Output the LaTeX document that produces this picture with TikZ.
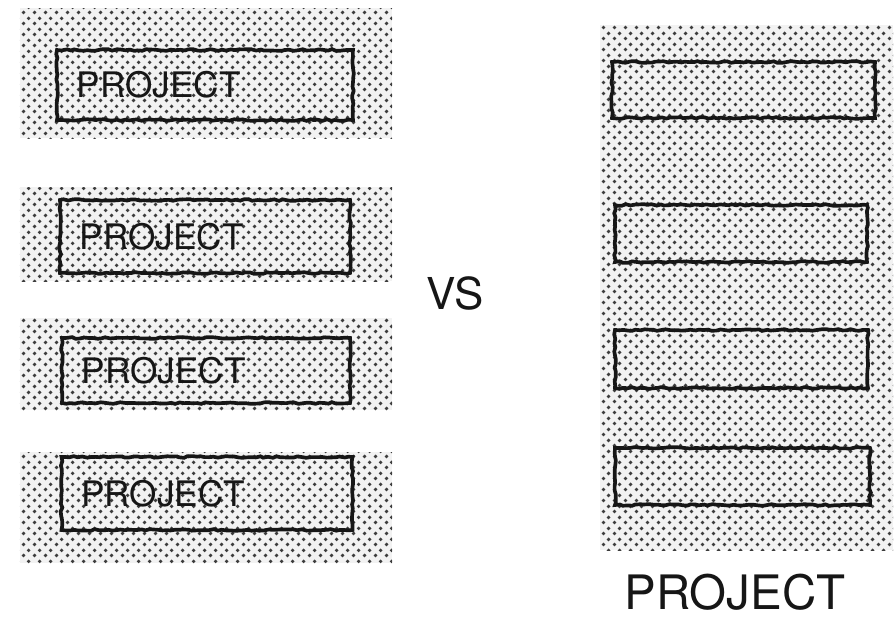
\documentclass[tikz,border=0pt]{standalone}
\usepackage{fontspec}
\setmainfont{TeX Gyre Heros}
\usetikzlibrary{patterns.meta,decorations.pathmorphing}
\definecolor{inkBlack}{RGB}{22,22,22}
\definecolor{dotInk}{RGB}{60,60,60}
\definecolor{paperGrey}{RGB}{242,242,242}
\pgfdeclarepattern{
  name=halftone,
  type=uncolored,
  bottom left={\pgfpoint{0pt}{0pt}},
  top right={\pgfpoint{6pt}{6pt}},
  tile size={\pgfpoint{6pt}{6pt}},
  code={
    \pgfpathcircle{\pgfpoint{1.5pt}{1.5pt}}{1.15pt}
    \pgfpathcircle{\pgfpoint{4.5pt}{4.5pt}}{1.15pt}
    \pgfusepath{fill}
  }
}
\tikzset{
  panelShade/.style={inner sep=0pt,preaction={fill=paperGrey},pattern=halftone,pattern color=dotInk},
  sketchBox/.style={draw=inkBlack,line width=2.1pt,inner sep=0pt,
    decorate,decoration={random steps,segment length=2.4pt,amplitude=0.5pt}},
  handLetter/.style={text=inkBlack,font=\fontsize{20}{20}\selectfont}
}

\begin{document}
\begin{tikzpicture}[x=0.2mm,y=-0.2mm]
\useasboundingbox[fill=white] (0,0) rectangle (894,621);
\pgfmathsetseed{11}
% separate project panels
\node[panelShade,minimum width=74.4mm,minimum height=26mm] (panelA) at (206,73) {};
\node[panelShade,minimum width=74.4mm,minimum height=18.8mm] (panelB) at (206,234) {};
\node[panelShade,minimum width=74.4mm,minimum height=18.4mm] (panelC) at (206,364) {};
\node[panelShade,minimum width=74.4mm,minimum height=22.2mm] (panelD) at (206,507.5) {};
\node[sketchBox,handLetter,minimum height=14mm,text width=51.2mm,inner xsep=4mm,align=left] (boxA) at (205,85) {PROJECT};
\node[sketchBox,handLetter,minimum height=14.6mm,text width=50mm,inner xsep=4mm,align=left] (boxB) at (205,236.5) {PROJECT};
\node[sketchBox,handLetter,minimum height=13mm,text width=49.6mm,inner xsep=4mm,align=left] (boxC) at (206,370.5) {PROJECT};
\node[sketchBox,handLetter,minimum height=14.6mm,text width=50.2mm,inner xsep=4mm,align=left] (boxD) at (207,493.5) {PROJECT};
% versus
\node[handLetter,font=\fontsize{25}{25}\selectfont] (versus) at (455,293.5) {VS};
% one project panel
\node[panelShade,minimum width=58.6mm,minimum height=105mm] (panelAll) at (746.5,287.5) {};
\node[sketchBox,minimum width=52.6mm,minimum height=11.2mm] (rowA) at (743.5,90) {};
\node[sketchBox,minimum width=50.4mm,minimum height=11.4mm] (rowB) at (741,233.5) {};
\node[sketchBox,minimum width=50.6mm,minimum height=11.6mm] (rowC) at (741.5,359) {};
\node[sketchBox,minimum width=51mm,minimum height=11.4mm] (rowD) at (742.5,476.5) {};
\node[handLetter,font=\fontsize{27}{27}\selectfont] (projLabel) at (735,592) {PROJECT};
\end{tikzpicture}
\end{document}
